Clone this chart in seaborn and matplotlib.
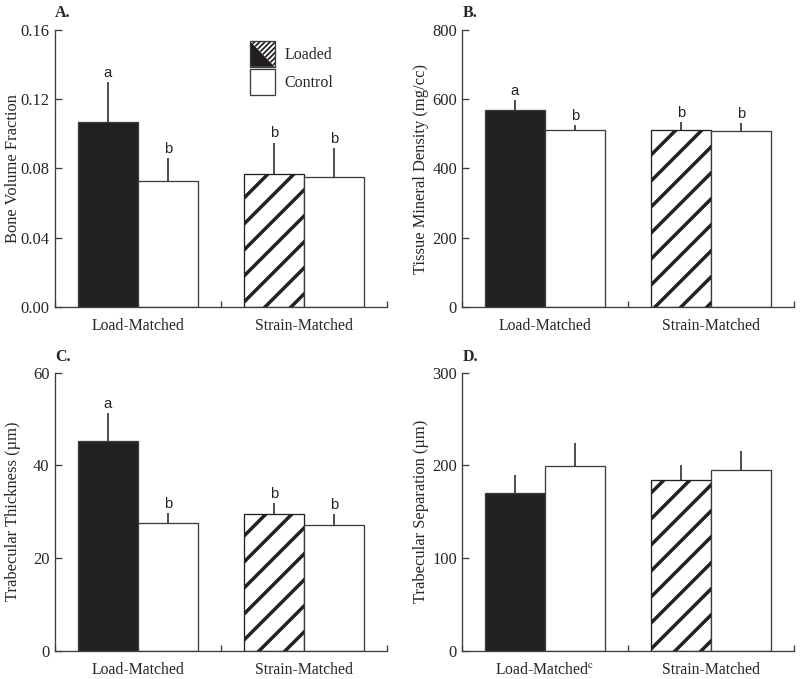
import numpy as np
import pandas as pd
import matplotlib
matplotlib.use("Agg")
import matplotlib.pyplot as plt
import seaborn as sns
from matplotlib.legend_handler import HandlerBase
from matplotlib.patches import Polygon, Rectangle, Patch

# ---------------- data ----------------
groups = ["Load-Matched", "Strain-Matched"]
treatments = ["Loaded", "Control"]

bvf_loaded = [0.107, 0.077]
bvf_control = [0.073, 0.075]
bvf_loaded_err = [0.023, 0.018]
bvf_control_err = [0.013, 0.017]
bvf_loaded_letters = ["a", "b"]
bvf_control_letters = ["b", "b"]

tmd_loaded = [569, 512]
tmd_control = [510, 508]
tmd_loaded_err = [29, 22]
tmd_control_err = [16, 22]
tmd_loaded_letters = ["a", "b"]
tmd_control_letters = ["b", "b"]

tbth_loaded = [45.3, 29.4]
tbth_control = [27.6, 27.2]
tbth_loaded_err = [5.9, 2.4]
tbth_control_err = [2.1, 2.3]
tbth_loaded_letters = ["a", "b"]
tbth_control_letters = ["b", "b"]

tbsp_loaded = [170, 184]
tbsp_control = [199, 195]
tbsp_loaded_err = [20, 16]
tbsp_control_err = [25, 21]
tbsp_loaded_letters = ["", ""]
tbsp_control_letters = ["", ""]

# ---------------- style ----------------
sns.set_style("ticks")
plt.rcParams["font.family"] = ["Liberation Serif", "DejaVu Serif"]
plt.rcParams["mathtext.fontset"] = "stix"
plt.rcParams["hatch.linewidth"] = 1.6

DPI = 156
W, H = 800, 679
fig = plt.figure(figsize=(W / DPI, H / DPI), dpi=DPI)

BLACK = "#231f20"
EDGE = "#3c3c3c"
FS_Y = 7.6
FS_X = 7.3
FS_L = 7.4


def ax_at(left, top, right, bottom):
    return fig.add_axes([left / W, 1 - bottom / H, (right - left) / W, (bottom - top) / H])


def panel(ax, loaded, control, lerr, cerr, lletters, cletters, ylim, yticks, fmt, ylabel,
          xlabels, letter, lx, ly):
    df = pd.DataFrame({
        "group": groups * 2,
        "treatment": ["Loaded"] * 2 + ["Control"] * 2,
        "value": list(loaded) + list(control),
    })
    sns.barplot(data=df, x="group", y="value", hue="treatment", order=groups,
                hue_order=treatments, palette={"Loaded": BLACK, "Control": "white"},
                width=0.723, errorbar=None, dodge=True, ax=ax, legend=False,
                edgecolor=EDGE, linewidth=0.6, zorder=2)
    lbars = list(ax.containers[0])
    cbars = list(ax.containers[1])
    # strain-matched loaded bar hatched
    hb = lbars[1]
    hb.set_facecolor("white")
    hb.set_hatch("//")
    hb.set_edgecolor(BLACK)
    for bars, vals, errs, lets in [(lbars, loaded, lerr, lletters), (cbars, control, cerr, cletters)]:
        xs = [b.get_x() + b.get_width() / 2 for b in bars]
        ax.errorbar(xs, vals, yerr=[np.zeros(len(vals)), errs], fmt="none",
                    ecolor="#2a2a2a", elinewidth=0.75, capsize=0, zorder=1)
        for x, v, e, t in zip(xs, vals, errs, lets):
            if t:
                ax.annotate(t, (x, v + e), xytext=(0, 1.0), textcoords="offset points",
                            ha="center", va="bottom", fontsize=6.8,
                            family=["Liberation Sans", "DejaVu Sans"], color="#222")
    ax.set_xlim(-0.5, 1.5)
    ax.set_ylim(*ylim)
    ax.set_yticks(yticks)
    ax.set_yticklabels([fmt.format(t) for t in yticks], fontsize=FS_Y)
    ax.set_xticks([0, 1])
    ax.set_xticklabels(xlabels, fontsize=FS_X)
    ax.set_xticks([-0.5, 0.5, 1.5], minor=True)
    ax.tick_params(axis="x", which="major", length=0, pad=5)
    ax.tick_params(axis="x", which="minor", direction="in", length=2.8, width=0.6, color=EDGE)
    ax.tick_params(axis="y", which="major", direction="in", length=3.3, width=0.6,
                   color=EDGE, pad=2.3)
    ax.set_xlabel("")
    ax.set_ylabel(ylabel, fontsize=FS_Y)
    ax.yaxis.set_label_coords(-0.10, 0.5)
    sns.despine(ax=ax)
    for s in ["left", "bottom"]:
        ax.spines[s].set_color(EDGE)
        ax.spines[s].set_linewidth(0.6)
    ax.patch.set_alpha(0)
    fig.text(lx / W, 1 - ly / H, letter, fontsize=FS_L, fontweight="bold",
             ha="left", va="center")


axA = ax_at(54.5, 30, 387, 307)
panel(axA, bvf_loaded, bvf_control, bvf_loaded_err, bvf_control_err,
      bvf_loaded_letters, bvf_control_letters, (0, 0.16), [0, 0.04, 0.08, 0.12, 0.16],
      "{:.2f}", "Bone Volume Fraction", groups, "A.", 55, 13)

axB = ax_at(462, 30, 794, 307)
panel(axB, tmd_loaded, tmd_control, tmd_loaded_err, tmd_control_err,
      tmd_loaded_letters, tmd_control_letters, (0, 800), [0, 200, 400, 600, 800],
      "{:.0f}", "Tissue Mineral Density (mg/cc)", groups, "B.", 463, 13)

axC = ax_at(54.5, 372.7, 387, 650.7)
panel(axC, tbth_loaded, tbth_control, tbth_loaded_err, tbth_control_err,
      tbth_loaded_letters, tbth_control_letters, (0, 60), [0, 20, 40, 60],
      "{:.0f}", "Trabecular Thickness (\u00b5m)", groups, "C.", 55, 357)

axD = ax_at(462, 372.7, 794, 650.7)
panel(axD, tbsp_loaded, tbsp_control, tbsp_loaded_err, tbsp_control_err,
      tbsp_loaded_letters, tbsp_control_letters, (0, 300), [0, 100, 200, 300],
      "{:.0f}", "Trabecular Separation (\u00b5m)",
      ["Load-Matched$^{\\mathrm{c}}$", "Strain-Matched"], "D.", 463, 357)


# ---------------- legend ----------------
class HandlerSplit(HandlerBase):
    def create_artists(self, legend, orig_handle, xdescent, ydescent, width, height,
                       fontsize, trans):
        x0, y0 = -xdescent, -ydescent
        t1 = Polygon([[x0, y0], [x0 + width, y0], [x0, y0 + height]], closed=True,
                     facecolor=BLACK, edgecolor="none", transform=trans)
        t2 = Polygon([[x0 + width, y0], [x0 + width, y0 + height], [x0, y0 + height]],
                     closed=True, facecolor="white", edgecolor=BLACK, linewidth=0,
                     hatch="/" * 10, transform=trans)
        try:
            t2.set_hatch_linewidth(0.8)
        except Exception:
            pass
        box = Rectangle((x0, y0), width, height, facecolor="none", edgecolor=EDGE,
                        linewidth=0.6, transform=trans)
        return [t1, t2, box]


class HandlerBox(HandlerBase):
    def create_artists(self, legend, orig_handle, xdescent, ydescent, width, height,
                       fontsize, trans):
        box = Rectangle((-xdescent, -ydescent), width, height, facecolor="white",
                        edgecolor=EDGE, linewidth=0.6, transform=trans)
        return [box]


FSLEG = 7.4
h_loaded = Patch(label="Loaded")
h_control = Patch(label="Control")
axA.legend(handles=[h_loaded, h_control], labels=treatments,
           handler_map={h_loaded: HandlerSplit(), h_control: HandlerBox()},
           loc="upper left", bbox_to_anchor=(250 / W, 1 - 41 / H),
           bbox_transform=fig.transFigure, frameon=False, fontsize=FSLEG,
           handlelength=11.5 / FSLEG, handleheight=2.1, labelspacing=0.15,
           handletextpad=0.6, borderpad=0, borderaxespad=0)

fig.savefig("out.png", dpi=DPI)
